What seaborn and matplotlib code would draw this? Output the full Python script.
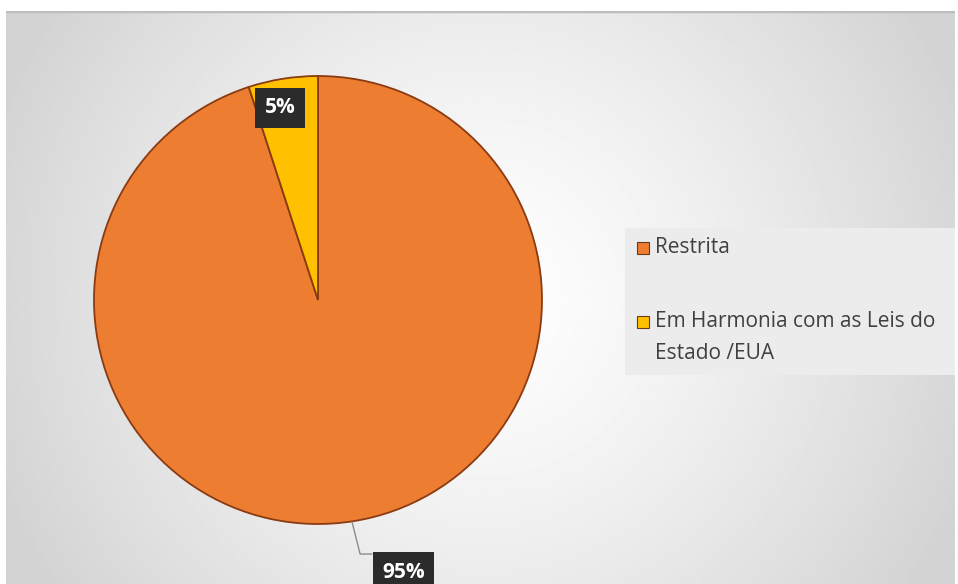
import numpy as np
import matplotlib
matplotlib.use("Agg")
import matplotlib.pyplot as plt
import seaborn as sns
from matplotlib.patches import Rectangle

# Dados do gráfico
categorias = ["Restrita", "Em Harmonia com as Leis do\nEstado /EUA"]
valores = [95, 5]
rotulos = ["95%", "5%"]
cores = ["#ED7D31", "#FFC000"]

sns.set_theme(style="white")
plt.rcParams["font.family"] = ["Open Sans", "DejaVu Sans"]

fig = plt.figure(figsize=(9.58, 5.84), dpi=100)
fig.patch.set_facecolor("white")

# Fundo com gradiente radial (área do gráfico)
bg = fig.add_axes([6 / 958, 0, 949 / 958, 573 / 584])
yy, xx = np.mgrid[0:300, 0:500]
cx, cy = 250, 150
d = np.sqrt(((xx - cx) / 270.0) ** 2 + ((yy - cy) / 270.0) ** 2)
d = np.clip(d, 0, 1)
grad = 1.0 - 0.17 * d ** 1.3
bg.imshow(grad, cmap="gray", vmin=0, vmax=1, aspect="auto", extent=[0, 1, 0, 1])
bg.axhline(1, color="#bdbdbd", lw=2.5)
bg.set_axis_off()

# Pizza
ax = fig.add_axes([94 / 958, 60 / 584, 448 / 958, 448 / 584])
wedges, _ = ax.pie(valores, colors=cores, startangle=90, counterclock=False,
                   wedgeprops=dict(edgecolor="#8a3b12", linewidth=1.3))
ax.set_xlim(-1, 1)
ax.set_ylim(-1, 1)
ax.set_aspect("equal")
ax.set_axis_off()

caixa = dict(boxstyle="square,pad=0.45", facecolor="#2b2b2b", edgecolor="none")
ax.text(-0.17, 0.858, rotulos[1], color="white", fontsize=15, fontweight="bold",
        ha="center", va="center", bbox=caixa, clip_on=False)
ax.plot([0.152, 0.188, 0.241], [-0.991, -1.134, -1.134], color="#8c8c8c", lw=1, clip_on=False)
ax.text(0.383, -1.215, rotulos[0], color="white", fontsize=15, fontweight="bold",
        ha="center", va="center", bbox=caixa, clip_on=False)

# Legenda (desenhada à mão, em coordenadas de pixel da caixa)
lg = fig.add_axes([625 / 958, 1 - 375 / 584, 330 / 958, 147 / 584])
lg.set_xlim(625, 955)
lg.set_ylim(375, 228)
lg.set_facecolor("#ececec")
for s in lg.spines.values():
    s.set_visible(False)
lg.set_xticks([])
lg.set_yticks([])
posicoes_y = [248, 322]
for cor, nome, y0 in zip(cores, categorias, posicoes_y):
    lg.add_patch(Rectangle((637, y0 - 6), 12, 12, facecolor=cor, edgecolor="#6b3a1a", lw=0.8))
    for k, linha in enumerate(nome.split("\n")):
        lg.text(655, y0 + 32 * k, linha, fontsize=15, color="#404040", ha="left", va="center")

fig.savefig("out.png", dpi=100)
